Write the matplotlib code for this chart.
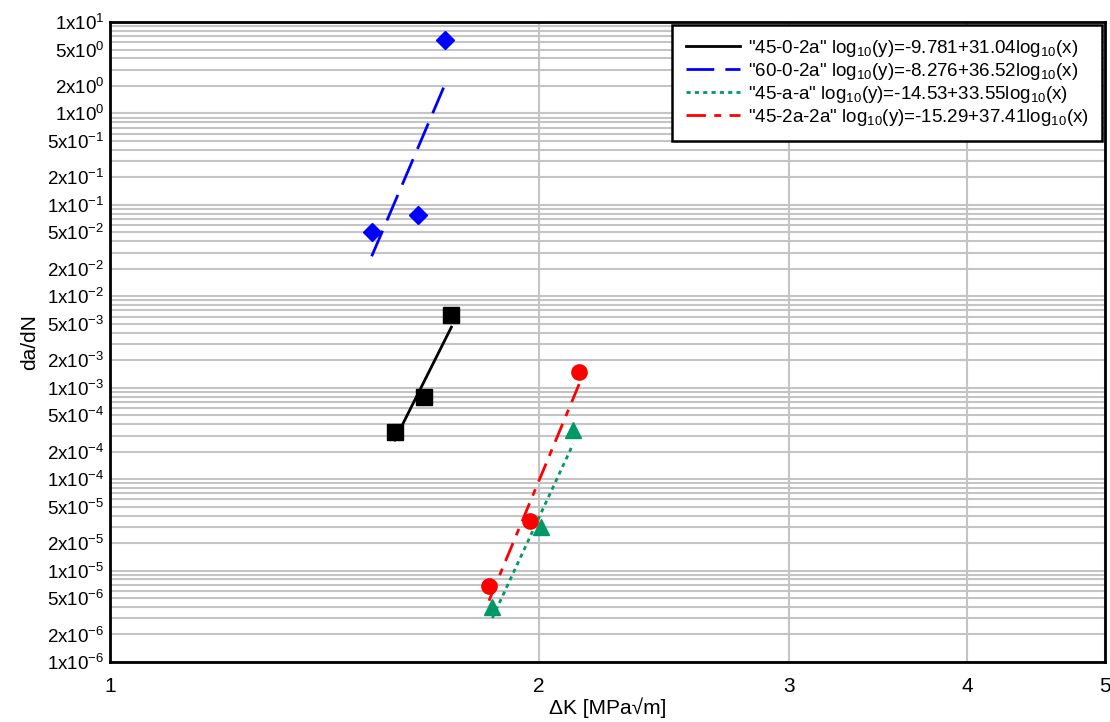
import numpy as np
import matplotlib
matplotlib.use("Agg")
from matplotlib import pyplot as plt
from matplotlib.ticker import FixedLocator, FixedFormatter, NullLocator

plt.rcParams['font.family'] = ['Liberation Sans', 'DejaVu Sans']
plt.rcParams['mathtext.fontset'] = 'custom'
plt.rcParams['mathtext.rm'] = 'Liberation Sans'
plt.rcParams['mathtext.it'] = 'Liberation Sans:italic'

# data (dK, da/dN)
dk_45_0_2a = [1.585, 1.663, 1.737]
dadn_45_0_2a = [3.3e-4, 7.9e-4, 6.2e-3]
dk_60_0_2a = [1.527, 1.646, 1.718]
dadn_60_0_2a = [0.050, 0.078, 6.3]
dk_45_a_a = [1.856, 2.008, 2.115]
dadn_45_a_a = [4.0e-6, 3.0e-5, 3.45e-4]
dk_45_2a_2a = [1.846, 1.973, 2.136]
dadn_45_2a_2a = [6.8e-6, 3.5e-5, 1.5e-3]

# fit coefficients from the legend: log10(y) = a + b*log10(x)
fit_45_0_2a = (-9.781, 31.04)
fit_60_0_2a = (-8.276, 36.52)
fit_45_a_a = (-14.53, 33.55)
fit_45_2a_2a = (-15.29, 37.41)

fig = plt.figure(figsize=(11.1, 7.22), dpi=100)
ax = fig.add_axes([110/1110, 1 - 662/722, 995/1110, 640/722])
ax.set_xscale('log')
ax.set_yscale('log')
ax.set_xlim(1, 5)
ax.set_ylim(1e-6, 1e1)

series = [
    (dk_45_0_2a, dadn_45_0_2a, fit_45_0_2a, 'black', 's', '-', '"45-0-2a"'),
    (dk_60_0_2a, dadn_60_0_2a, fit_60_0_2a, '#0000ff', 'D', (0, (10, 4)), '"60-0-2a"'),
    (dk_45_a_a, dadn_45_a_a, fit_45_a_a, '#009966', '^', (0, (1.5, 1.5)), '"45-a-a"'),
    (dk_45_2a_2a, dadn_45_2a_2a, fit_45_2a_2a, '#ff0000', 'o', (0, (7, 3, 2.5, 3)), '"45-2a-2a"'),
]

for x, y, (a, b), col, mk, ls, name in series:
    xs = np.array([min(x), max(x)])
    ys = 10 ** (a + b * np.log10(xs))
    lab = name + r' log$_{\mathregular{10}}$(y)=' + f'{a:g}+{b:g}' + r'log$_{\mathregular{10}}$(x)'
    ax.plot(xs, ys, color=col, ls=ls, lw=2, label=lab, zorder=3)
    ms = 9 if mk == 'D' else 11
    ax.plot(x, y, ls='none', marker=mk, color=col, ms=ms, zorder=4)

# grid
yt = []
for e in range(-6, 1):
    for m in range(1, 10):
        yt.append(m * 10.0 ** e)
yt.append(10.0)
ax.yaxis.set_major_locator(FixedLocator(yt))
ylabels = []
for v in yt:
    m = int(round(v / 10 ** np.floor(np.log10(v) + 1e-9)))
    e = int(np.floor(np.log10(v) + 1e-9))
    ylabels.append(r'$\mathregular{%dx10^{%d}}$' % (m, e) if m in (1, 2, 5) else '')
ax.yaxis.set_major_formatter(FixedFormatter(ylabels))
ax.yaxis.set_minor_locator(NullLocator())
ax.xaxis.set_major_locator(FixedLocator([1, 2, 3, 4, 5]))
ax.xaxis.set_major_formatter(FixedFormatter(['1', '2', '3', '4', '5']))
ax.xaxis.set_minor_locator(NullLocator())
ax.grid(True, color='#c4c4c4', lw=1.5, zorder=0)
ax.set_axisbelow(True)
ax.tick_params(length=0, labelsize=13.5, pad=4)
ax.tick_params(axis='x', labelsize=15, pad=11)
for s in ax.spines.values():
    s.set_linewidth(2)

ax.set_xlabel('\u0394K [MPa\u221am]', fontsize=15, labelpad=1)
ax.set_ylabel('da/dN', fontsize=15, labelpad=6)

leg = ax.legend(loc='upper right', fontsize=13.5, fancybox=False, framealpha=1,
                edgecolor='black', handlelength=2.9, handletextpad=0.45,
                borderpad=0.7, labelspacing=0.1, borderaxespad=0.15)
leg.get_frame().set_linewidth(1.8)

fig.savefig('out.png', dpi=100)
